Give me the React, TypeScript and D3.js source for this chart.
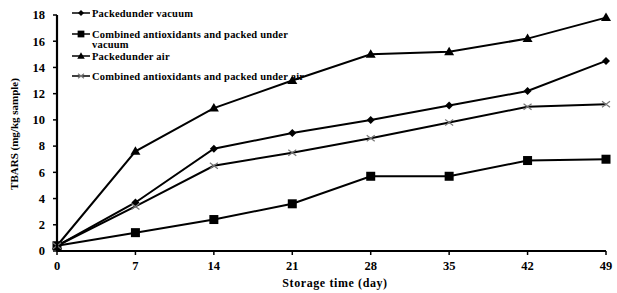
import * as d3 from 'd3'
import type { ReactElement } from 'react'

const days = [0, 7, 14, 21, 28, 35, 42, 49]
const vacuum = [0.4, 3.7, 7.8, 9.0, 10.0, 11.1, 12.2, 14.5]
const antioxVacuum = [0.4, 1.4, 2.4, 3.6, 5.7, 5.7, 6.9, 7.0]
const air = [0.4, 7.6, 10.9, 13.0, 15.0, 15.2, 16.2, 17.8]
const antioxAir = [0.4, 3.4, 6.5, 7.5, 8.6, 9.8, 11.0, 11.2]
const yTicks = [0, 2, 4, 6, 8, 10, 12, 14, 16, 18]

type Marker = 'diamond' | 'square' | 'triangle' | 'cross'

const seriesList: { name: string[]; values: number[]; marker: Marker }[] = [
  { name: ['Packedunder vacuum'], values: vacuum, marker: 'diamond' },
  { name: ['Combined antioxidants and packed under', 'vacuum'], values: antioxVacuum, marker: 'square' },
  { name: ['Packedunder air'], values: air, marker: 'triangle' },
  { name: ['Combined antioxidants and packed under air'], values: antioxAir, marker: 'cross' },
]

const width = 617
const height = 293
const margin = { top: 15, right: 11, bottom: 42, left: 57 }
const font = '"Liberation Serif", "Times New Roman", serif'

function MarkerShape({ kind, x, y, s = 1 }: { kind: Marker; x: number; y: number; s?: number }): ReactElement {
  if (kind === 'diamond') {
    return <path d={`M${x},${y - 4 * s}L${x + 4 * s},${y}L${x},${y + 4 * s}L${x - 4 * s},${y}Z`} fill="#000" />
  }
  if (kind === 'square') {
    return <rect x={x - 4.5 * s} y={y - 4.5 * s} width={9 * s} height={9 * s} fill="#000" />
  }
  if (kind === 'triangle') {
    return <path d={`M${x},${y - 5 * s}L${x + 5 * s},${y + 3.5 * s}L${x - 5 * s},${y + 3.5 * s}Z`} fill="#000" />
  }
  return (
    <path
      d={`M${x - 4 * s},${y - 3 * s}L${x + 4 * s},${y + 3 * s}M${x - 4 * s},${y + 3 * s}L${x + 4 * s},${y - 3 * s}`}
      stroke="#777"
      strokeWidth={1.2}
      fill="none"
    />
  )
}

export default function App(): ReactElement {
  const innerW = width - margin.left - margin.right
  const innerH = height - margin.top - margin.bottom
  const x = d3.scaleLinear().domain([0, 49]).range([0, innerW])
  const y = d3.scaleLinear().domain([0, 18]).range([innerH, 0])

  const line = d3
    .line<number>()
    .x((_, i) => x(days[i]!))
    .y((d) => y(d))

  const legendRows = [13, 34, 56, 76]

  return (
    <svg
      width={width}
      height={height}
      style={{ position: 'absolute', left: 0, top: 0, background: '#fff' }}
      fontFamily={font}
    >
      <g transform={`translate(${margin.left},${margin.top})`}>
        {seriesList.map((s) => (
          <g key={s.marker}>
            <path d={line(s.values) ?? ''} fill="none" stroke="#000" strokeWidth={2} />
            {s.values.map((v, i) => (
              <MarkerShape key={i} kind={s.marker} x={x(days[i]!)} y={y(v)} />
            ))}
          </g>
        ))}

        <line x1={0} x2={0} y1={0} y2={innerH} stroke="#000" strokeWidth={2.2} />
        <line x1={0} x2={innerW} y1={innerH} y2={innerH} stroke="#000" strokeWidth={2.2} />

        {yTicks.map((t) => (
          <g key={t} transform={`translate(0,${y(t)})`}>
            <line x1={-4} x2={0} stroke="#000" strokeWidth={1.5} />
            <text x={-12} dy="0.35em" textAnchor="end" fontSize={12.5} fontWeight="bold">
              {t}
            </text>
          </g>
        ))}
        {days.map((d) => (
          <g key={d} transform={`translate(${x(d)},${innerH})`}>
            <line y1={0} y2={4} stroke="#000" strokeWidth={1.5} />
            <text y={19} textAnchor="middle" fontSize={12.5} fontWeight="bold">
              {d}
            </text>
          </g>
        ))}
      </g>

      {seriesList.map((s, i) => (
        <g key={s.marker} transform={`translate(0,${legendRows[i]})`}>
          <line x1={72} x2={90} y1={0} y2={0} stroke="#000" strokeWidth={1.5} />
          <MarkerShape kind={s.marker} x={81} y={0} s={0.75} />
          {s.name.map((t, j) => (
            <text key={j} x={92} y={j * 10} dy="0.35em" fontSize={10.5} fontWeight="bold" letterSpacing={0.2}>
              {t}
            </text>
          ))}
        </g>
      ))}

      <text
        transform={`translate(18,134) rotate(-90)`}
        textAnchor="middle"
        fontSize={11}
        fontWeight="bold"
      >
        TBARS (mg/kg sample)
      </text>
      <text x={335} y={287} textAnchor="middle" fontSize={12} fontWeight="bold" letterSpacing={0.6}>
        Storage time (day)
      </text>
    </svg>
  )
}
